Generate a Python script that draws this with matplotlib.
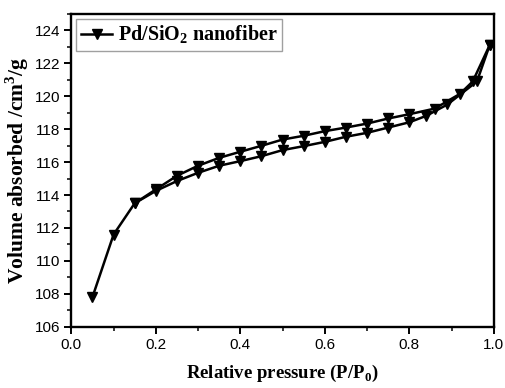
import matplotlib
matplotlib.use("Agg")
import matplotlib.pyplot as plt
from matplotlib.ticker import MultipleLocator

# Adsorption branch
ads_x = [0.05, 0.10, 0.15, 0.20, 0.25, 0.30, 0.35, 0.40, 0.45, 0.50, 0.55, 0.60,
         0.65, 0.70, 0.75, 0.80, 0.84, 0.89, 0.96, 0.99]
ads_y = [107.8, 111.6, 113.5, 114.25, 114.85, 115.35, 115.78, 116.06, 116.36, 116.73,
         116.97, 117.23, 117.54, 117.78, 118.1, 118.42, 118.81, 119.5, 120.9, 123.1]
# Desorption branch
des_x = [0.99, 0.95, 0.92, 0.86, 0.80, 0.75, 0.70, 0.65, 0.60, 0.55, 0.50, 0.45,
         0.40, 0.35, 0.30, 0.25, 0.20, 0.15]
des_y = [123.1, 120.9, 120.15, 119.25, 118.91, 118.65, 118.34, 118.1, 117.88, 117.6,
         117.37, 116.99, 116.63, 116.26, 115.78, 115.17, 114.34, 113.5]

x_ticks = [0.0, 0.2, 0.4, 0.6, 0.8, 1.0]
y_ticks = [106, 108, 110, 112, 114, 116, 118, 120, 122, 124]

plt.rcParams['mathtext.fontset'] = 'custom'
plt.rcParams['mathtext.rm'] = 'Liberation Serif'
plt.rcParams['mathtext.bf'] = 'Liberation Serif:bold'

fig = plt.figure(figsize=(5.06, 3.88), dpi=100)
ax = fig.add_axes([0.141, 0.158, 0.835, 0.806])

ax.plot(ads_x, ads_y, color='black', lw=1.8, marker='v', ms=6.5,
        label=r'Pd/SiO$_\mathbf{2}$ nanofiber')
ax.plot(des_x, des_y, color='black', lw=1.8, marker='v', ms=6.5)

ax.set_xlim(0, 1.0)
ax.set_ylim(106, 125)
ax.set_xticks(x_ticks)
ax.set_yticks(y_ticks)
ax.xaxis.set_minor_locator(MultipleLocator(0.1))
ax.yaxis.set_minor_locator(MultipleLocator(1))
ax.tick_params(which='major', direction='out', length=5, width=1.4, labelsize=11, pad=3)
ax.tick_params(which='minor', direction='out', length=3, width=1.1)
for lab in ax.get_xticklabels() + ax.get_yticklabels():
    lab.set_family('Liberation Sans')
for s in ax.spines.values():
    s.set_linewidth(1.7)

ax.set_xlabel(r'Relative pressure (P/P$_\mathbf{0}$)',
              fontdict={'family': 'Liberation Serif', 'weight': 'bold', 'size': 13.5},
              labelpad=8)
ax.set_ylabel(r'Volume absorbed /cm$^\mathbf{3}$/g',
              fontdict={'family': 'Liberation Serif', 'weight': 'bold', 'size': 15.5},
              labelpad=3)

leg = ax.legend(loc='upper left', prop={'family': 'Liberation Serif', 'weight': 'bold', 'size': 14.5},
                frameon=True, fancybox=False, edgecolor='#888888', handlelength=1.5,
                handletextpad=0.3, borderpad=0.25, borderaxespad=0.25)
leg.get_frame().set_linewidth(1.0)

fig.savefig('out.png', dpi=100)
